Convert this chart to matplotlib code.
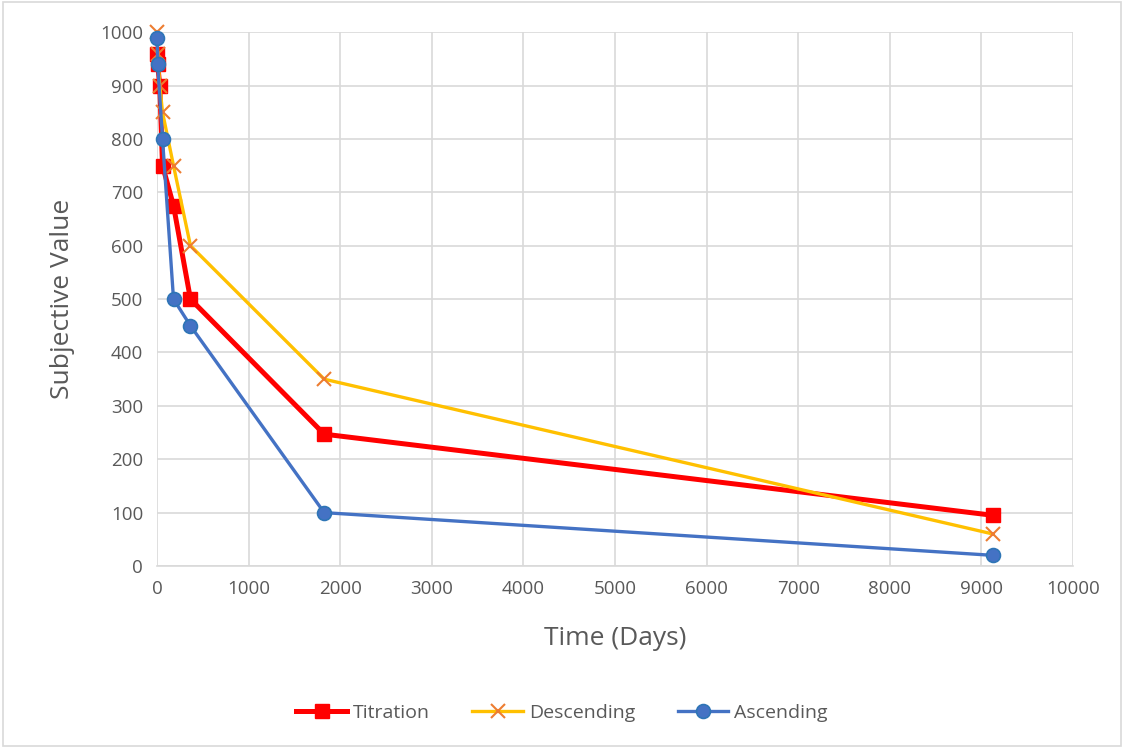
import matplotlib
matplotlib.use("Agg")
import matplotlib.pyplot as plt
from matplotlib.patches import Rectangle

plt.rcParams['font.family'] = ['Open Sans', 'DejaVu Sans']

days = [1, 7, 30, 60, 180, 365, 1825, 9125]
titration = [960, 940, 900, 750, 675, 500, 247, 95]
descending = [1000, 960, 900, 850, 750, 600, 350, 60]
ascending_days = [1, 7, 60, 180, 365, 1825, 9125]
ascending = [990, 940, 800, 500, 450, 100, 20]

x_ticks = list(range(0, 10001, 1000))
y_ticks = list(range(0, 1001, 100))

fig = plt.figure(figsize=(11.24, 7.48), dpi=100)
ax = fig.add_axes([0.1397, 0.2433, 0.8149, 0.7137])

ax.plot(days, titration, color='#FF0000', lw=3.6, marker='s', ms=10,
        mfc='#FF0000', mec='#FF0000', label='Titration', zorder=3, clip_on=False)
ax.plot(days, descending, color='#FFC000', lw=2.4, marker='x', ms=10,
        mew=1.5, mec='#ED7D31', label='Descending', zorder=4, clip_on=False)
ax.plot(ascending_days, ascending, color='#4472C4', lw=2.4, marker='o', ms=10,
        mfc='#4472C4', mec='#2E75B6', mew=1.2, label='Ascending', zorder=5, clip_on=False)

ax.set_xlim(0, 10000)
ax.set_ylim(0, 1000)
ax.set_xticks(x_ticks)
ax.set_yticks(y_ticks)
ax.tick_params(length=0, labelsize=13.5, labelcolor='#595959', pad=10)
ax.grid(True, color='#D9D9D9', lw=1.2)
ax.set_axisbelow(True)
for s in ['top', 'right', 'left']:
    ax.spines[s].set_visible(False)
ax.spines['bottom'].set_color('#D9D9D9')
ax.spines['bottom'].set_linewidth(1.2)

ax.set_xlabel('Time (Days)', fontsize=19, color='#595959', labelpad=20)
ax.set_ylabel('Subjective Value', fontsize=19, color='#595959', labelpad=18)

leg = fig.legend(loc='center', bbox_to_anchor=(0.5, 0.047), ncol=3, frameon=False,
                 fontsize=14, labelcolor='#595959', handlelength=2.6,
                 columnspacing=2.2, handletextpad=0.3)

fig.patches.append(Rectangle((0.003, 0.003), 0.994, 0.994, transform=fig.transFigure,
                             fill=False, edgecolor='#D9D9D9', lw=1.2))

fig.savefig('out.png', dpi=100, facecolor='white')
